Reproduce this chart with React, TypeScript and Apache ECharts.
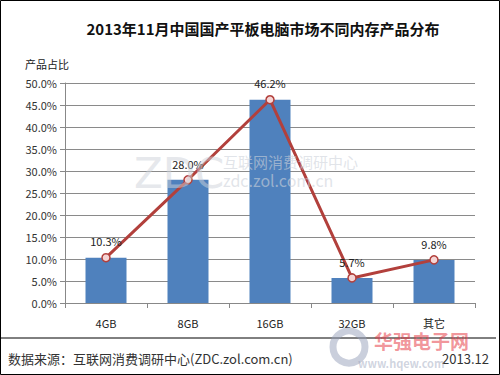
import React, { useEffect, useRef } from "react";
import * as echarts from "echarts";

const categories = ["4GB", "8GB", "16GB", "32GB", "其它"];
const shares = [10.3, 28.0, 46.2, 5.7, 9.8];
const titleText = "2013年11月中国国产平板电脑市场不同内存产品分布";
const yName = "产品占比";
const sourceText = "数据来源：互联网消费调研中心(ZDC.zol.com.cn)";
const dateText = "2013.12";

const FONT = "'Noto Sans CJK SC', 'Noto Sans', sans-serif";

export default function App() {
  const ref = useRef<HTMLDivElement>(null);
  useEffect(() => {
    if (!ref.current) return;
    const chart = echarts.init(ref.current, null, { renderer: "svg" });
    chart.setOption({
      animation: false,
      backgroundColor: "#fff",
      textStyle: { fontFamily: FONT },
      title: {
        text: titleText,
        left: 258,
        top: 16,
        textAlign: "center",
        textStyle: { fontSize: 15, fontWeight: "bold", color: "#111", fontFamily: FONT },
      },
      grid: { left: 65, right: 25, top: 83, bottom: 72 },
      xAxis: {
        type: "category",
        data: categories,
        axisLine: { lineStyle: { color: "#888", width: 1 } },
        axisTick: { show: true, length: 5, lineStyle: { color: "#888" } },
        axisLabel: { color: "#222", fontSize: 11, margin: 14, fontFamily: FONT },
      },
      yAxis: {
        type: "value",
        min: 0,
        max: 50,
        interval: 5,
        name: yName,
        nameLocation: "end",
        nameGap: 14,
        nameTextStyle: { color: "#222", fontSize: 11, align: "right", padding: [0, -4, 0, 0] },
        axisLine: { show: true, lineStyle: { color: "#888" } },
        axisTick: { show: true, length: 5, inside: false, lineStyle: { color: "#888" } },
        axisLabel: {
          color: "#333",
          fontSize: 11,
          margin: 8,
          formatter: (v: number) => v.toFixed(1) + "%",
        },
        splitLine: { lineStyle: { color: "#8a8a8a", width: 1 } },
      },
      series: [
        {
          type: "bar",
          data: shares,
          barWidth: "50%",
          itemStyle: { color: "#4F81BD" },
          z: 2,
        },
        {
          type: "line",
          data: shares,
          symbol: "circle",
          symbolSize: 8,
          lineStyle: { color: "#B2403C", width: 3 },
          itemStyle: { color: "#F5D5D5", borderColor: "#B2403C", borderWidth: 1.5 },
          label: {
            show: true,
            position: "top",
            distance: 6,
            color: "#222",
            fontSize: 11,
            formatter: (p: any) => p.value.toFixed(1) + "%",
          },
          z: 3,
        },
      ],
      graphic: [
        {
          type: "rect",
          shape: { x: 0.5, y: 0.5, width: 499, height: 374 },
          style: { fill: "none", stroke: "#000", lineWidth: 1 },
          z: 100,
        },
        {
          type: "line",
          shape: { x1: 0, y1: 338, x2: 496, y2: 338 },
          style: { stroke: "#000", lineWidth: 1 },
        },
        {
          type: "text",
          x: 8,
          y: 352,
          style: { text: sourceText, fontSize: 13, fill: "#333", fontFamily: FONT },
        },
        {
          type: "text",
          x: 489,
          y: 352,
          style: { text: dateText, fontSize: 13, fill: "#333", textAlign: "right", fontFamily: FONT },
        },
        {
          type: "text",
          x: 134,
          y: 152,
          z: 10,
          style: { text: "ZDC", fontSize: 42, fontWeight: "normal", fill: "rgba(205,210,218,0.5)", fontFamily: "'DejaVu Sans', sans-serif" },
        },
        {
          type: "text",
          x: 223,
          y: 154,
          z: 10,
          style: { text: "互联网消费调研中心", fontSize: 15, fill: "rgba(205,210,218,0.6)", fontFamily: FONT },
        },
        {
          type: "text",
          x: 223,
          y: 172,
          z: 10,
          style: { text: "zdc.zol.com.cn", fontSize: 16, fill: "rgba(205,210,218,0.6)", fontFamily: FONT },
        },
        {
          type: "circle",
          shape: { cx: 349, cy: 347, r: 16 },
          z: 10,
          style: { fill: "none", stroke: "rgba(150,160,185,0.5)", lineWidth: 7 },
        },
        {
          type: "text",
          x: 374,
          y: 331,
          z: 10,
          style: { text: "华强电子网", fontSize: 19, fontWeight: "bold", fill: "rgba(230,60,70,0.55)", fontFamily: FONT },
        },
        {
          type: "text",
          x: 358,
          y: 357,
          z: 10,
          style: { text: "www.hqew.com", fontSize: 11, fontWeight: "bold", fill: "rgba(150,160,185,0.45)", fontFamily: FONT },
        },
      ],
    });
    return () => chart.dispose();
  }, []);
  return (
    <div
      ref={ref}
      style={{ position: "fixed", left: 0, top: 0, width: 500, height: 375 }}
    />
  );
}
